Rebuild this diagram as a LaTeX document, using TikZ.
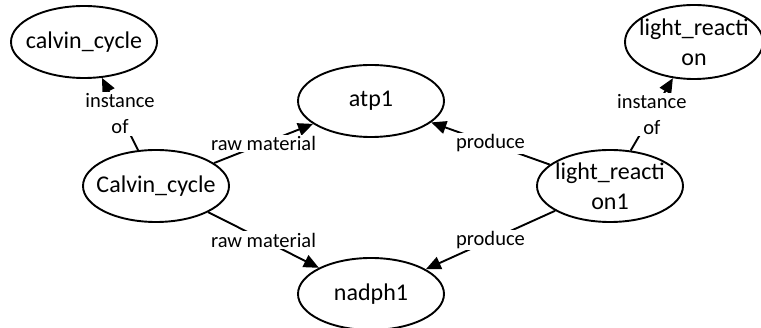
\documentclass[tikz,border=0pt]{standalone}
\usepackage{fontspec}
\setmainfont{Carlito}
\usetikzlibrary{arrows.meta,shapes.geometric}
\begin{document}
\begin{tikzpicture}[x=1pt,y=-1pt,
  ent/.style={draw,ellipse,line width=1.9pt,minimum width=146pt,minimum height=72pt,inner xsep=-25pt,inner ysep=-12pt,align=center,font=\fontsize{24}{30}\selectfont},
  rel/.style={line width=1.9pt,-{Triangle[length=15pt,width=13pt]}},
  lbl/.style={fill=white,inner sep=1.5pt,align=center,font=\fontsize{20.5}{26}\selectfont}]
\useasboundingbox (0,0) rectangle (761,328);
\node[ent] (calvin) at (84,42) {calvin\_cycle};
\node[ent] (atp) at (371,101) {atp1};
\node[ent] (Calvin) at (156,186) {Calvin\_cycle};
\node[ent] (light1) at (610,186) {light\_reacti\\on1};
\node[ent] (nadph) at (371,294) {nadph1};
\node[ent,minimum width=138pt,minimum height=74pt] (light) at (694,42) {light\_reacti\\on};
\draw[rel] (Calvin) -- node[lbl]{instance\\of} (calvin);
\draw[rel] (Calvin) -- node[lbl]{raw material} (atp);
\draw[rel] (Calvin) -- node[lbl]{raw material} (nadph);
\draw[rel] (light1) -- node[lbl]{produce} (atp);
\draw[rel] (light1) -- node[lbl]{produce} (nadph);
\draw[rel] (light1) -- node[lbl]{instance\\of} (light);
\end{tikzpicture}
\end{document}
